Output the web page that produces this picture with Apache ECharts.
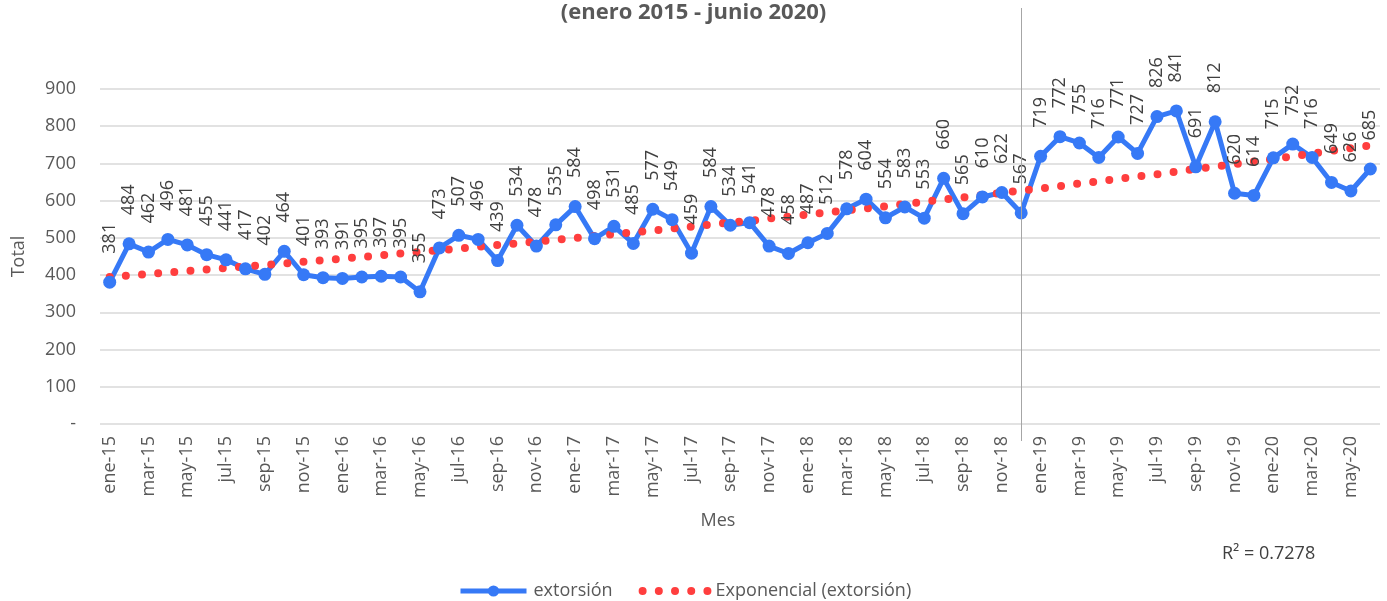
<!DOCTYPE html>
<html>
<head>
<meta charset="utf-8">
<script src="https://cdn.jsdelivr.net/npm/echarts@6/dist/echarts.min.js"></script>
<style>
    html, body { margin: 0; padding: 0; background: #fff; }
    #chart { width: 1387px; height: 601px; }
</style>
</head>
<body>
<div id="chart"></div>
<script>
const months = [
    'ene-15', 'feb-15', 'mar-15', 'abr-15', 'may-15', 'jun-15', 'jul-15', 'ago-15', 'sep-15', 'oct-15', 'nov-15', 'dic-15',
    'ene-16', 'feb-16', 'mar-16', 'abr-16', 'may-16', 'jun-16', 'jul-16', 'ago-16', 'sep-16', 'oct-16', 'nov-16', 'dic-16',
    'ene-17', 'feb-17', 'mar-17', 'abr-17', 'may-17', 'jun-17', 'jul-17', 'ago-17', 'sep-17', 'oct-17', 'nov-17', 'dic-17',
    'ene-18', 'feb-18', 'mar-18', 'abr-18', 'may-18', 'jun-18', 'jul-18', 'ago-18', 'sep-18', 'oct-18', 'nov-18', 'dic-18',
    'ene-19', 'feb-19', 'mar-19', 'abr-19', 'may-19', 'jun-19', 'jul-19', 'ago-19', 'sep-19', 'oct-19', 'nov-19', 'dic-19',
    'ene-20', 'feb-20', 'mar-20', 'abr-20', 'may-20', 'jun-20',
]
const extorsion = [
    381, 484, 462, 496, 481, 455, 441, 417, 402, 464, 401, 393,
    391, 395, 397, 395, 355, 473, 507, 496, 439, 534, 478, 535,
    584, 498, 531, 485, 577, 549, 459, 584, 534, 541, 478, 458,
    487, 512, 578, 604, 554, 583, 553, 660, 565, 610, 622, 567,
    719, 772, 755, 716, 771, 727, 826, 841, 691, 812, 620, 614,
    715, 752, 716, 649, 626, 685,
]
// tendencia exponencial
const tendencia = [
    395, 399, 403, 407, 411, 415, 419, 423, 427, 431, 436, 440,
    444, 449, 453, 458, 462, 467, 471, 476, 481, 485, 490, 495,
    500, 505, 510, 515, 520, 525, 530, 536, 541, 546, 552, 557,
    563, 568, 574, 579, 585, 591, 597, 603, 609, 615, 621, 627,
    633, 639, 646, 652, 658, 665, 671, 678, 685, 692, 698, 705,
    712, 719, 726, 734, 741, 748,
]
const yTicks = { min: 0, max: 900, interval: 100 }
const corte = 'dic-18'
const r2 = 'R² = 0.7278'

const font = 'Open Sans'
const gris = '#595959'
const azul = '#3679F6'
const rojo = '#FF3E3E'

const chart = echarts.init(document.getElementById('chart'), null, { renderer: 'canvas' })
chart.setOption({
    animation: false,
    textStyle: { fontFamily: font },
    title: {
        text: '(enero 2015 - junio 2020)',
        left: 'center',
        top: -3,
        textStyle: { fontFamily: font, fontSize: 22, fontWeight: 'bold', color: gris },
    },
    legend: {
        left: 453,
        top: 577,
        itemWidth: 66,
        itemHeight: 14,
        itemGap: 26,
        lineStyle: { width: 'inherit' },
        textStyle: { fontFamily: font, fontSize: 18, color: gris, padding: [0, 0, 0, 2] },
        data: [
            'extorsión',
            { name: 'Exponencial (extorsión)', itemStyle: { color: 'rgba(0,0,0,0)', borderWidth: 0 } },
        ],
    },
    graphic: [
        {
            type: 'text',
            left: 1222,
            top: 545,
            style: { text: r2, fontFamily: font, fontSize: 18, fill: '#404040' },
        },
    ],
    grid: {
        left: 100,
        right: 7,
        top: 89,
        bottom: 177,
        containLabel: false,
        outerBoundsMode: 'none',
    },
    xAxis: {
        type: 'category',
        data: months,
        boundaryGap: true,
        name: 'Mes',
        nameLocation: 'middle',
        nameGap: 88,
        nameTextStyle: { fontFamily: font, fontSize: 18, color: gris, padding: [0, 44, 0, 0] },
        axisLine: { show: false },
        axisTick: { show: false },
        axisLabel: {
            interval: 1,
            rotate: 90,
            margin: 12,
            fontFamily: font,
            fontSize: 18,
            color: gris,
        },
    },
    yAxis: {
        type: 'value',
        min: yTicks.min,
        max: yTicks.max,
        interval: yTicks.interval,
        name: 'Total',
        nameLocation: 'middle',
        nameGap: 72,
        nameRotate: 90,
        nameTextStyle: { fontFamily: font, fontSize: 18, color: gris },
        axisLine: { show: false },
        axisTick: { show: false },
        axisLabel: {
            margin: 24,
            fontFamily: font,
            fontSize: 18,
            color: gris,
            formatter: v => (v === 0 ? '-' : String(v)),
        },
        splitLine: { lineStyle: { color: '#d9d9d9', width: 1.5 } },
    },
    series: [
        {
            name: 'extorsión',
            type: 'line',
            data: extorsion,
            symbol: 'circle',
            symbolSize: 13,
            showAllSymbol: true,
            itemStyle: { color: azul },
            lineStyle: { color: azul, width: 5 },
            label: {
                show: true,
                position: 'top',
                distance: 22,
                rotate: 90,
                align: 'left',
                verticalAlign: 'middle',
                fontFamily: font,
                fontSize: 18,
                color: '#404040',
            },
            markLine: {
                silent: true,
                symbol: ['none', 'none'],
                label: { show: false },
                lineStyle: { color: '#a6a6a6', width: 1, type: 'solid' },
                data: [
                    [
                        { xAxis: corte, y: 8 },
                        { xAxis: corte, y: 441 },
                    ],
                ],
            },
        },
        {
            name: 'Exponencial (extorsión)',
            type: 'line',
            data: tendencia,
            symbol: 'none',
            showSymbol: false,
            itemStyle: { color: rojo },
            lineStyle: { color: rojo, width: 8, type: [0, 16.2], cap: 'round' },
        },
    ],
})
</script>
</body>
</html>
